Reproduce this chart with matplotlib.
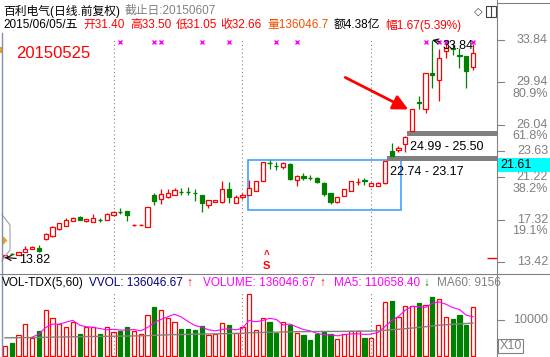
import matplotlib
matplotlib.use("Agg")
import matplotlib.pyplot as plt
import matplotlib.transforms as mtransforms
from matplotlib.patches import Rectangle, Polygon
from matplotlib.lines import Line2D
import pandas as pd

plt.rcParams["font.family"] = ["Liberation Sans", "Noto Sans CJK SC", "DejaVu Sans"]

# daily bars, oldest first (last bar = 2015/06/05)
opens = [13.85, 14.17, 14.06, 14.34, 14.62, 14.72, 15.53, 15.81, 16.48, 16.73,
         17.20, 17.60, 17.15, 17.13, 17.30, 17.28, 17.74, 18.06, 18.10, 16.80,
         16.80, 16.64, 19.58, 19.21, 19.40, 19.58, 19.90, 19.90, 19.78, 19.58,
         18.63, 18.94, 18.91, 20.10, 18.87, 19.37, 19.58, 19.98, 20.90, 22.58,
         22.28, 22.18, 22.43, 20.96, 21.36, 21.20, 21.10, 20.71, 19.74, 18.96,
         19.52, 19.98, 20.78, 20.92, 20.41, 20.44, 20.66, 23.60, 23.75, 24.30,
         25.50, 28.10, 27.50, 30.85, 30.20, 32.83, 33.15, 32.50, 32.37, 31.40]
highs = [14.10, 14.25, 14.38, 14.89, 14.88, 14.98, 16.05, 16.70, 17.02, 17.45,
         17.55, 17.65, 17.40, 17.85, 17.46, 17.90, 18.10, 18.40, 18.15, 16.90,
         16.88, 18.48, 19.76, 20.13, 20.13, 20.22, 20.20, 20.30, 20.13, 19.60,
         19.15, 19.15, 20.90, 20.80, 19.58, 19.75, 21.00, 20.88, 22.65, 22.80,
         22.64, 22.64, 22.50, 21.40, 21.57, 21.42, 21.25, 20.75, 19.78, 19.40,
         20.16, 20.88, 21.10, 21.18, 20.75, 20.75, 22.74, 24.40, 24.10, 24.99,
         27.45, 28.69, 30.80, 33.84, 33.01, 33.75, 33.60, 33.10, 32.40, 33.50]
lows = [13.82, 14.05, 14.02, 14.30, 14.58, 14.35, 15.45, 15.75, 16.40, 16.70,
        17.15, 17.25, 17.10, 17.10, 17.10, 17.25, 17.70, 17.83, 17.22, 16.75,
        16.78, 16.60, 18.66, 18.75, 19.35, 19.55, 19.58, 19.58, 19.06, 18.04,
        18.41, 18.90, 18.88, 18.80, 18.80, 19.20, 19.55, 19.95, 20.85, 21.94,
        21.88, 21.94, 21.00, 20.44, 21.00, 20.96, 20.68, 19.49, 18.73, 18.82,
        19.48, 19.95, 20.50, 20.50, 20.38, 20.40, 20.60, 23.17, 23.50, 23.55,
        25.50, 27.50, 27.12, 29.42, 28.23, 32.18, 32.46, 31.26, 29.42, 31.05]
closes = [14.06, 14.12, 14.34, 14.62, 14.80, 14.45, 15.99, 16.66, 16.98, 17.28,
          17.50, 17.30, 17.37, 17.50, 17.26, 17.84, 18.04, 18.02, 17.74, 16.84,
          16.84, 18.48, 19.03, 19.67, 19.76, 20.04, 19.84, 19.84, 19.72, 18.82,
          19.12, 19.12, 20.10, 19.37, 19.37, 19.58, 20.20, 20.84, 22.59, 22.52,
          22.22, 22.55, 21.03, 21.33, 21.17, 21.15, 20.75, 19.67, 18.96, 19.37,
          20.13, 20.84, 20.84, 20.86, 20.71, 20.71, 22.74, 23.20, 23.95, 24.95,
          27.45, 28.00, 30.80, 30.65, 32.18, 33.10, 33.05, 32.40, 30.99, 32.66]
volumes = [27800, 37000, 57500, 88900, 50900, 70400, 127800, 104600, 87900, 79600,
           95400, 61100, 81500, 81500, 61100, 79600, 67600, 70400, 81500, 69400,
           60200, 113900, 137000, 127800, 106500, 95400, 75000, 75000, 72200, 83300,
           58300, 61100, 92600, 86100, 64800, 79600, 172200, 72200, 104600, 95400,
           63000, 95400, 86100, 64800, 58300, 44400, 61100, 67600, 61100, 46300,
           61100, 70400, 70400, 50900, 50900, 85200, 150900, 153700, 107400, 138900,
           138900, 148100, 141700, 164800, 157400, 107400, 101900, 113900, 86100, 136047]
ma60 = [50500, 50700, 50900, 51200, 51300, 51500, 52000, 52400, 52700, 53000,
        53400, 53600, 53900, 54200, 54400, 54700, 54900, 55200, 55500, 55700,
        56000, 56600, 57400, 58200, 58800, 59300, 59700, 60100, 60500, 61000,
        61200, 61400, 61900, 62400, 62700, 63000, 64500, 64800, 65400, 65900,
        66200, 66800, 67200, 67500, 67700, 67800, 68000, 68200, 68300, 68300,
        68500, 68800, 69100, 69200, 69300, 69900, 71500, 73000, 74200, 75900,
        77600, 79500, 81300, 83600, 85600, 86900, 88100, 89300, 90200, 91560]

price_ticks = [33.84, 29.94, 26.04, 23.63, 21.22, 17.32, 13.42]
tick_pcts = ["", "80.9%", "61.8%", "", "38.2%", "19.1%", ""]
signal_days = [17, 22, 23, 29, 33, 40, 43, 62, 64, 65, 69]
divider_days = [16, 35, 54]
gap_days = [56, 59]          # bar right before each upward gap
zone_days = [35.8, 58.4]
zone_prices = [18.2, 22.8]
vol_tick = 100000

W, H = 550, 357
RED = "#ff0000"
GREEN = "#008000"
GRAY = "#808080"
STEP = 6.783                 # pixels per bar
BODY = 0.62
XLIM = (-5 / STEP, 492 / STEP)


def rect(x0, y0, x1, y1):
    """pixel box (top-left origin) -> figure fraction rect"""
    return [x0 / W, 1 - y1 / H, (x1 - x0) / W, (y1 - y0) / H]


def px(x, y):
    return x / W, 1 - y / H


def draw_candles(ax):
    for i, (o, h, l, c) in enumerate(zip(opens, highs, lows, closes)):
        col = RED if c >= o else GREEN
        top, bot = max(o, c), min(o, c)
        if top - bot < 0.06:
            ax.vlines(i, l, h, color=col, lw=0.9)
            ax.hlines((o + c) / 2, i - BODY / 2, i + BODY / 2, color=col, lw=1.0)
        elif c >= o:
            ax.vlines(i, top, h, color=col, lw=0.9)
            ax.vlines(i, l, bot, color=col, lw=0.9)
            ax.add_patch(Rectangle((i - BODY / 2, bot), BODY, top - bot,
                                   facecolor="white", edgecolor=col, lw=0.9, zorder=3))
        else:
            ax.vlines(i, l, h, color=col, lw=0.9)
            ax.add_patch(Rectangle((i - BODY / 2, bot), BODY, top - bot,
                                   facecolor=col, edgecolor=col, lw=0.9, zorder=3))


def draw_volume(ax):
    for i, v in enumerate(volumes):
        up = closes[i] >= opens[i]
        col = RED if up else GREEN
        ax.add_patch(Rectangle((i - BODY / 2, 0), BODY, v, facecolor="white" if up else col,
                               edgecolor=col, lw=0.9))
    ma5 = pd.Series(volumes).rolling(5).mean()
    ax.plot(range(len(volumes)), ma5, color="#ff00ff", lw=0.8, zorder=4)
    ax.plot(range(len(ma60)), ma60, color=GRAY, lw=1.0, zorder=4)


fig = plt.figure(figsize=(W / 100, H / 100), dpi=100)

main = fig.add_axes(rect(0, 33, 497, 271))
main.set_xlim(*XLIM)
main.set_ylim(12.589, 34.484)
main.set_axis_off()

vol = fig.add_axes(rect(0, 290, 497, 357))
vol.set_xlim(*XLIM)
vol.set_ylim(-2778, 183348)
vol.set_axis_off()

for d in divider_days:
    main.axvline(d, ymax=0.97, color=GRAY, lw=0.8, ls=(0, (1, 2.5)))
    vol.axvline(d, ymax=0.955, color=GRAY, lw=0.8, ls=(0, (1, 2.5)))

# consolidation box
main.add_patch(Rectangle((zone_days[0], zone_prices[0]), zone_days[1] - zone_days[0],
                         zone_prices[1] - zone_prices[0], fill=False,
                         edgecolor="#3399ff", lw=1.1, zorder=2))

# gap bands
for k in gap_days:
    lo, hi = highs[k], lows[k + 1]
    main.add_patch(Rectangle((k + 0.3, lo), XLIM[1] - k - 0.3, hi - lo,
                             facecolor=GRAY, edgecolor="none", zorder=2))
    main.annotate(f"{lo:.2f} - {hi:.2f}", xy=(k + 0.3, lo), xytext=(3, -11),
                  textcoords="offset pixels", ha="left", va="center", fontsize=9)

draw_candles(main)
draw_volume(vol)

# signal crosses along the top
top_tr = mtransforms.blended_transform_factory(main.transData, main.transAxes)
main.plot(signal_days, [0.964] * len(signal_days), "x", color="#ff00ff",
          ms=3.5, mew=1, transform=top_tr, clip_on=False)

# low / high marks
main.annotate(f"{lows[0]:.2f}", xy=(0, lows[0]), xytext=(14, -2), textcoords="offset pixels",
              ha="left", va="center", fontsize=9,
              arrowprops=dict(arrowstyle="->", color="black", lw=0.8, shrinkA=0, shrinkB=0))
hi_day = highs.index(max(highs))
main.annotate(f"{highs[hi_day]:.2f}", xy=(hi_day, highs[hi_day]), xytext=(10, -6),
              textcoords="offset pixels", ha="left", va="center", fontsize=9,
              arrowprops=dict(arrowstyle="->", color="black", lw=0.8, shrinkA=0, shrinkB=0))
main.hlines(lows[0], 71.06, XLIM[1], color=RED, lw=1)

# red arrow to the 2015-05-25 limit-up bar
main.annotate("", xy=(60 - 0.55, highs[60]), xytext=(-63, 32), textcoords="offset pixels",
              arrowprops=dict(arrowstyle="-|>,head_length=0.9,head_width=0.45", color=RED,
                              lw=2, mutation_scale=10, shrinkA=0, shrinkB=0))
main.text(38.6, 0.0, "S", transform=top_tr, color=RED, fontsize=8, fontweight="bold",
          ha="center", va="bottom")
main.text(38.6, 0.045, "^", transform=top_tr, color=RED, fontsize=7, fontweight="bold",
          ha="center", va="bottom")

fig.text(*px(16, 53), "20150525", color=RED, fontsize=12, va="center")

# right price scale
tr_main = mtransforms.blended_transform_factory(fig.transFigure, main.transData)
for p, pct in zip(price_ticks, tick_pcts):
    main.plot([497 / W, 504 / W], [p, p], color=GRAY, lw=0.8, transform=tr_main, clip_on=False)
    main.text(548 / W, p, f"{p:.2f}", transform=tr_main, ha="right", va="center",
              color=GRAY, fontsize=9)
    if pct:
        main.annotate(pct, xy=(548 / W, p), xycoords=tr_main, xytext=(0, -11.5),
                      textcoords="offset pixels", ha="right", va="center",
                      color=GRAY, fontsize=9)
fig.add_artist(Rectangle(px(498, 172), 52 / W, 14 / H, transform=fig.transFigure,
                         facecolor="#00ffff", edgecolor="none", zorder=5))
fig.text(*px(500, 165), "21.61", fontsize=9, va="center", zorder=6)

tr_vol = mtransforms.blended_transform_factory(fig.transFigure, vol.transData)
vol.plot([497 / W, 504 / W], [vol_tick, vol_tick], color=GRAY, lw=0.8,
         transform=tr_vol, clip_on=False)
vol.text(548 / W, vol_tick, f"{vol_tick // 10}", transform=tr_vol, ha="right",
         va="center", color=GRAY, fontsize=9)
fig.add_artist(Rectangle(px(498, 353), 25 / W, 14 / H, transform=fig.transFigure,
                         facecolor="white", edgecolor=GRAY, lw=0.8))
fig.text(*px(510.5, 346), "X10", color=GRAY, fontsize=9, ha="center", va="center")

# frame lines
fig.add_artist(Line2D([0, 1], [1 - 274 / H] * 2, color=GRAY, lw=0.8))
fig.add_artist(Line2D([497 / W] * 2, [0, 1], color=GRAY, lw=0.8))
fig.add_artist(Line2D([497 / W, 1], [1 - 3 / H] * 2, color=GRAY, lw=0.8))
fig.add_artist(Line2D([1.5 / W] * 2, [0, 1 - 33 / H], color="#8090b0", lw=1))
fig.add_artist(Polygon([px(1.5, 214), px(10, 225), px(10, 250), px(1.5, 261)], closed=False,
                       fill=False, edgecolor="#a0a0a0", lw=0.8))
fig.add_artist(Polygon([px(3, 236), px(7.5, 240.5), px(3, 245)], facecolor="#e8a020",
                       edgecolor="none"))
fig.add_artist(Polygon([px(0, 47), px(2.5, 47), px(2.5, 53), px(0, 53)],
                       facecolor="#e8a020", edgecolor="none"))

# header lines
fig.text(*px(3, 11), "百利电气(日线.前复权)", fontsize=8.5, va="center")
fig.text(*px(125, 11), "截止日:20150607", fontsize=8.5, va="center", color=GRAY)
header = [(3, "2015/06/05/五", "black"), (83, "开31.40", RED), (130, "高33.50", RED),
          (176, "低31.05", RED), (220, "收32.66", RED), (267, "量136046.7", "#f05000"),
          (334, "额4.38亿", "black"), (385, "幅1.67(5.39%)", RED)]
for x, s, c in header:
    fig.text(*px(x, 25), s, fontsize=8.5, va="center", color=c)
fig.text(*px(478, 12), "◇", fontsize=8, ha="center", va="center", color="#404040",
         family=["DejaVu Sans"])
fig.add_artist(Rectangle(px(486, 17), 10 / W, 11 / H, transform=fig.transFigure,
                         fill=False, edgecolor="#404040", lw=0.8))
fig.add_artist(Line2D([491 / W] * 2, [1 - 17 / H, 1 - 6 / H], color="#404040", lw=0.8))

vol_header = [(2, "VOL-TDX(5,60)", "black"), (89, "VVOL: 136046.67", "#000080"),
              (186, "↑", RED), (203, "VOLUME: 136046.67", "#ff00ff"), (319, "↑", RED),
              (334, "MA5: 110658.40", "#ff00ff"), (423, "↓", GREEN), (437, "MA60: 9156", GRAY)]
for x, s, c in vol_header:
    fig.text(*px(x, 283), s, fontsize=8.5, va="center", color=c)

fig.savefig("out.png", dpi=100)
